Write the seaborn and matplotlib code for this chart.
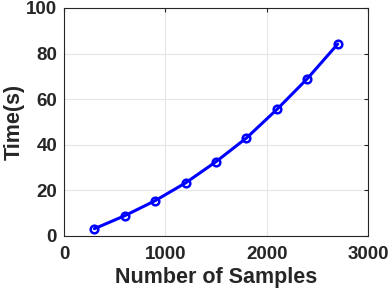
import pandas as pd
import seaborn as sns
import matplotlib.pyplot as plt

samples = [300, 600, 900, 1200, 1500, 1800, 2100, 2400, 2700]
times = [3.2, 8.9, 15.5, 23.3, 32.6, 43.0, 55.5, 69.0, 84.2]

df = pd.DataFrame({'samples': samples, 'time': times})

sns.set_style('whitegrid')
plt.rcParams['font.family'] = ['Liberation Sans', 'DejaVu Sans']
plt.rcParams['font.weight'] = 'bold'

fig = plt.figure(figsize=(3.9, 2.95), dpi=100)
ax = fig.add_axes([0.164, 0.2, 0.78, 0.773])

sns.lineplot(data=df, x='samples', y='time', ax=ax, color='#0000ff', linewidth=2.2,
             marker='o', markersize=5.5, markerfacecolor='none',
             markeredgecolor='#0000ff', markeredgewidth=1.8)

ax.set_xlim(0, 3000)
ax.set_ylim(0, 100)
ax.set_xticks([0, 1000, 2000, 3000])
ax.set_yticks([0, 20, 40, 60, 80, 100])
ax.grid(True, color='#e6e6e6', linewidth=0.8)
for s in ax.spines.values():
    s.set_visible(True)
    s.set_color('#262626')
    s.set_linewidth(0.8)
ax.tick_params(direction='in', length=3, width=0.8, colors='#262626',
               labelsize=13.5, top=True, right=True)
ax.tick_params(axis='x', pad=7)
ax.tick_params(axis='y', pad=5)
for lab in ax.get_xticklabels() + ax.get_yticklabels():
    lab.set_fontweight('bold')
ax.set_xlabel('Number of Samples', fontsize=15.5, fontweight='bold', color='#262626', labelpad=3)
ax.set_ylabel('Time(s)', fontsize=15.5, fontweight='bold', color='#262626', labelpad=1)

fig.savefig('out.png', dpi=100)
